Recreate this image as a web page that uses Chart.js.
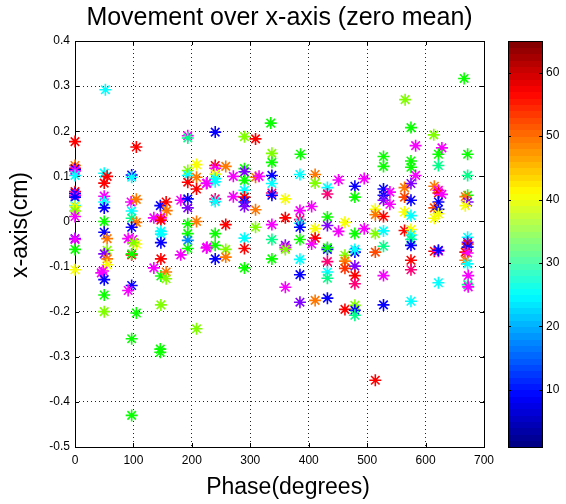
<!DOCTYPE html>
<html><head><meta charset="utf-8">
<script src="https://cdn.jsdelivr.net/npm/chart.js@4/dist/chart.umd.min.js"></script>
<style>html,body{margin:0;padding:0;background:#fff}</style>
</head><body>
<canvas id="c" width="566" height="504"></canvas>
<script>
// ---- data ----
const titleText = 'Movement over x-axis (zero mean)';
const xTitle = 'Phase(degrees)';
const yTitle = 'x-axis(cm)';
const xTicks = [0,100,200,300,400,500,600,700];
const yTicks = [0.4,0.3,0.2,0.1,0,-0.1,-0.2,-0.3,-0.4,-0.5];
const cbTicks = [10,20,30,40,50,60];
const cbMin = 1, cbMax = 65;

const phase = [
0,0,0,0,0,0,0,0,0,0,0,0,0,0,0,0,0,0,
50,55,50,50,50,50,50,50,55,52,55,50,55,55,45,48,50,50,50,
105,97,97,96,105,97,97,105,97,91,99,105,100,97,97,97,91,105,97,97,
146,156,157,135,147,147,147,147,147,147,135,147,156,156,147,146,146,
181,193,193,193,193,193,208,193,208,193,208,226,193,208,193,193,193,181,226,208,
240,240,240,258,240,240,240,225,240,240,258,240,240,258,258,240,225,
271,271,290,290,290,290,290,290,290,290,290,290,290,
309,309,315,309,309,337,337,335,337,337,337,337,337,337,337,
360,360,360,360,360,360,386,385,385,385,385,385,385,385,385,385,411,411,405,411,411,405,411,
432,432,432,432,432,432,432,432,432,432,451,451,462,462,462,462,462,
479,479,495,479,495,479,479,479,479,479,479,479,479,514,514,514,514,514,
528,528,528,539,528,528,539,528,528,528,528,528,
565,575,583,575,575,583,564,575,564,575,564,575,564,575,575,575,575,575,575,575,
614,628,622,622,615,622,622,628,622,615,622,622,615,615,622,622,622,
666,672,672,672,668,672,668,672,672,672,672,668,672,668,672,673,672,673
];
const xMove = [
0.177,0.124,0.118,0.115,0.112,0.102,0.066,0.062,0.058,0.054,0.035,0.033,0.023,0.011,-0.038,-0.040,-0.062,-0.107,
0.107,0.100,0.085,0.056,0.043,0.030,0.000,-0.024,-0.038,0.292,-0.064,-0.072,-0.083,-0.096,-0.114,-0.110,-0.129,-0.163,-0.200,
0.165,0.103,0.098,0.043,0.049,0.023,0.007,-0.002,-0.013,-0.038,-0.040,-0.050,-0.047,-0.074,-0.072,-0.142,-0.153,-0.203,-0.260,-0.430,
0.035,0.043,0.024,0.008,0.008,0.003,-0.022,-0.028,-0.047,-0.083,-0.103,-0.121,-0.112,-0.127,-0.185,-0.283,-0.290,
0.047,0.050,0.030,0.190,0.185,0.113,0.126,0.102,0.098,0.087,0.072,0.085,-0.005,0.000,-0.027,-0.042,-0.060,-0.074,-0.057,-0.238,
0.198,0.124,0.118,0.122,0.105,0.095,0.088,0.084,0.050,0.044,-0.007,-0.027,-0.053,-0.062,-0.079,-0.083,-0.059,
0.100,0.055,0.188,0.117,0.110,0.091,0.069,0.054,0.043,0.033,-0.037,-0.060,-0.103,
0.183,0.098,0.100,0.026,-0.013,0.151,0.131,0.218,0.102,0.084,0.063,0.058,-0.007,-0.040,-0.083,
0.050,0.008,-0.053,-0.058,-0.062,-0.146,0.149,0.104,0.024,0.004,-0.004,-0.013,-0.040,-0.084,-0.118,-0.179,0.104,0.085,0.033,-0.016,-0.037,-0.050,-0.175,
0.075,0.061,0.010,-0.009,-0.062,-0.058,-0.089,-0.112,-0.126,-0.170,0.092,-0.022,-0.002,-0.075,-0.088,-0.104,-0.195,
0.078,0.054,0.095,-0.027,-0.016,-0.068,-0.062,-0.099,-0.120,-0.138,-0.186,-0.197,-0.208,0.027,0.015,-0.027,-0.068,-0.352,
0.144,0.122,0.072,0.065,0.058,0.047,0.038,0.011,-0.021,-0.055,-0.120,-0.185,
0.270,0.208,0.168,0.134,0.120,0.102,0.075,0.084,0.054,0.047,0.021,0.013,-0.020,-0.018,-0.030,-0.040,-0.053,-0.086,-0.107,-0.177,
0.192,0.163,0.149,0.124,0.078,0.069,0.063,0.060,0.043,0.030,0.027,0.017,0.007,-0.066,-0.066,-0.064,-0.136,
0.317,0.149,0.102,0.058,0.055,0.043,0.035,-0.035,-0.046,-0.050,-0.057,-0.068,-0.070,-0.086,-0.094,-0.120,-0.140,-0.145
];
const colourVal = [
1,6,1,44,54,33,1,44,54,44,33,12,17,54,49,54,22,12,
33,1,1,54,33,44,22,44,6,33,17,49,6,12,54,54,44,22,17,
1,44,33,54,6,33,28,6,44,54,54,12,17,1,22,44,54,22,22,22,
44,1,6,54,54,1,33,33,44,1,54,22,6,17,17,22,22,
54,44,49,54,28,17,12,33,6,1,1,54,22,6,22,38,22,54,54,17,
44,1,54,6,12,33,33,54,60,33,1,22,22,17,6,44,54,
54,54,17,22,49,22,33,1,44,49,33,1,22,
1,6,54,6,17,17,22,22,44,33,60,44,54,28,22,
12,1,49,54,17,54,22,33,54,60,33,44,22,33,44,49,6,17,54,12,1,54,6,
33,60,22,49,44,22,60,33,28,44,54,54,12,17,6,3,1,
44,22,54,22,54,44,33,49,1,60,17,44,28,12,6,17,4,1,
22,22,44,54,44,49,54,1,33,28,54,44,
17,22,54,22,22,54,6,49,4,44,12,33,1,12,33,28,44,1,60,33,
17,54,22,28,6,54,1,54,44,4,44,12,12,1,54,44,33,
22,22,28,22,6,49,12,33,49,1,44,1,54,6,33,54,28,54
];

// ---- helpers ----
const FONT = '"Liberation Sans", Arial, Helvetica, sans-serif';
function pointColour(v){ // hsv-like colormap used for the markers
  const h = ((v - 1) / 64) * 360;
  return 'hsl(' + h.toFixed(1) + ',100%,50%)';
}
function clamp(a){ return Math.max(0, Math.min(1, a)); }
function jet(t){
  const r = clamp(Math.min(4*t-1.5, -4*t+4.5));
  const g = clamp(Math.min(4*t-0.5, -4*t+3.5));
  const b = clamp(Math.min(4*t+0.5, -4*t+2.5));
  return 'rgb(' + Math.round(r*255) + ',' + Math.round(g*255) + ',' + Math.round(b*255) + ')';
}
const fmt = v => (Math.round(v*10)/10).toString();

const boxPlugin = {
  id: 'boxPlugin',
  beforeDatasetsDraw(chart){
    const {ctx, chartArea: a, scales} = chart;
    ctx.save();
    ctx.strokeStyle = '#000'; ctx.lineWidth = 1;
    ctx.strokeRect(Math.round(a.left)+0.5, Math.round(a.top)+0.5, Math.round(a.right-a.left), Math.round(a.bottom-a.top));
    const tl = 4;
    ctx.beginPath();
    xTicks.forEach(v => {
      const x = Math.round(scales.x.getPixelForValue(v)) + 0.5;
      ctx.moveTo(x, a.bottom); ctx.lineTo(x, a.bottom - tl);
      ctx.moveTo(x, a.top); ctx.lineTo(x, a.top + tl);
    });
    yTicks.forEach(v => {
      const y = Math.round(scales.y.getPixelForValue(v)) + 0.5;
      ctx.moveTo(a.left, y); ctx.lineTo(a.left + tl, y);
      ctx.moveTo(a.right, y); ctx.lineTo(a.right - tl, y);
    });
    ctx.stroke();
    ctx.restore();
  },
  afterDraw(chart){
    const {ctx, chartArea: a} = chart;
    ctx.save();
    ctx.fillStyle = '#000';
    ctx.textAlign = 'center'; ctx.textBaseline = 'middle';
    ctx.font = '25px ' + FONT;
    ctx.fillText(titleText, (a.left + a.right)/2, 18);
    ctx.font = '23px ' + FONT;
    ctx.fillText(xTitle, 288, 488);
    ctx.save();
    ctx.translate(21, 225);
    ctx.rotate(-Math.PI/2);
    ctx.fillText(yTitle, 0, 0);
    ctx.restore();
    // colorbar
    const cbL = 508, cbR = 542;
    const yOf = v => a.bottom - (v - cbMin) / (cbMax - cbMin) * (a.bottom - a.top);
    const n = 64;
    for (let i = 0; i < n; i++) {
      const v0 = cbMin + i * (cbMax - cbMin) / n, v1 = cbMin + (i+1) * (cbMax - cbMin) / n;
      const y0 = yOf(v0), y1 = yOf(v1);
      ctx.fillStyle = jet((i + 0.5) / n);
      ctx.fillRect(cbL, Math.floor(y1), cbR - cbL, Math.ceil(y0) - Math.floor(y1));
    }
    ctx.strokeStyle = '#000'; ctx.lineWidth = 1;
    ctx.strokeRect(cbL + 0.5, Math.round(a.top) + 0.5, cbR - cbL, Math.round(a.bottom - a.top));
    ctx.beginPath();
    cbTicks.forEach(v => {
      const y = Math.round(yOf(v)) + 0.5;
      ctx.moveTo(cbL, y); ctx.lineTo(cbL + 3, y);
      ctx.moveTo(cbR, y); ctx.lineTo(cbR - 3, y);
    });
    ctx.stroke();
    ctx.fillStyle = '#000';
    ctx.font = '12px ' + FONT;
    ctx.textAlign = 'left'; ctx.textBaseline = 'middle';
    cbTicks.forEach(v => ctx.fillText(String(v), cbR + 4, yOf(v)));
    ctx.restore();
  }
};

new Chart(document.getElementById('c').getContext('2d'), {
  type: 'scatter',
  data: { datasets: [{
    data: phase.map((p, i) => ({ x: p, y: xMove[i] })),
    clip: false,
    pointStyle: 'star',
    pointRadius: 6,
    pointHoverRadius: 6,
    borderWidth: 1.6,
    pointBorderColor: c => pointColour(colourVal[c.dataIndex]),
    pointBackgroundColor: c => pointColour(colourVal[c.dataIndex])
  }]},
  options: {
    responsive: false, animation: false, devicePixelRatio: 1,
    layout: { padding: { top: 41, right: 82, left: 0, bottom: 0 } },
    plugins: { legend: { display: false }, tooltip: { enabled: false }, title: { display: false } },
    scales: {
      x: {
        type: 'linear', min: 0, max: 700,
        afterBuildTicks: s => { s.ticks = xTicks.map(v => ({ value: v })); },
        afterFit: s => { s.height = 57; },
        ticks: { color: '#000', font: { family: FONT, size: 12 }, padding: 6, maxRotation: 0, callback: v => String(v) },
        grid: { color: '#222', lineWidth: 1, drawTicks: false },
        border: { display: false, dash: [1, 3] },
        title: { display: false }
      },
      y: {
        type: 'linear', min: -0.5, max: 0.4,
        afterBuildTicks: s => { s.ticks = yTicks.map(v => ({ value: v })); },
        afterFit: s => { s.width = 75; },
        ticks: { color: '#000', font: { family: FONT, size: 12 }, padding: 5, callback: v => fmt(v) },
        grid: { color: '#222', lineWidth: 1, drawTicks: false },
        border: { display: false, dash: [1, 3] },
        title: { display: false }
      }
    }
  },
  plugins: [boxPlugin]
});
</script>
</body></html>
